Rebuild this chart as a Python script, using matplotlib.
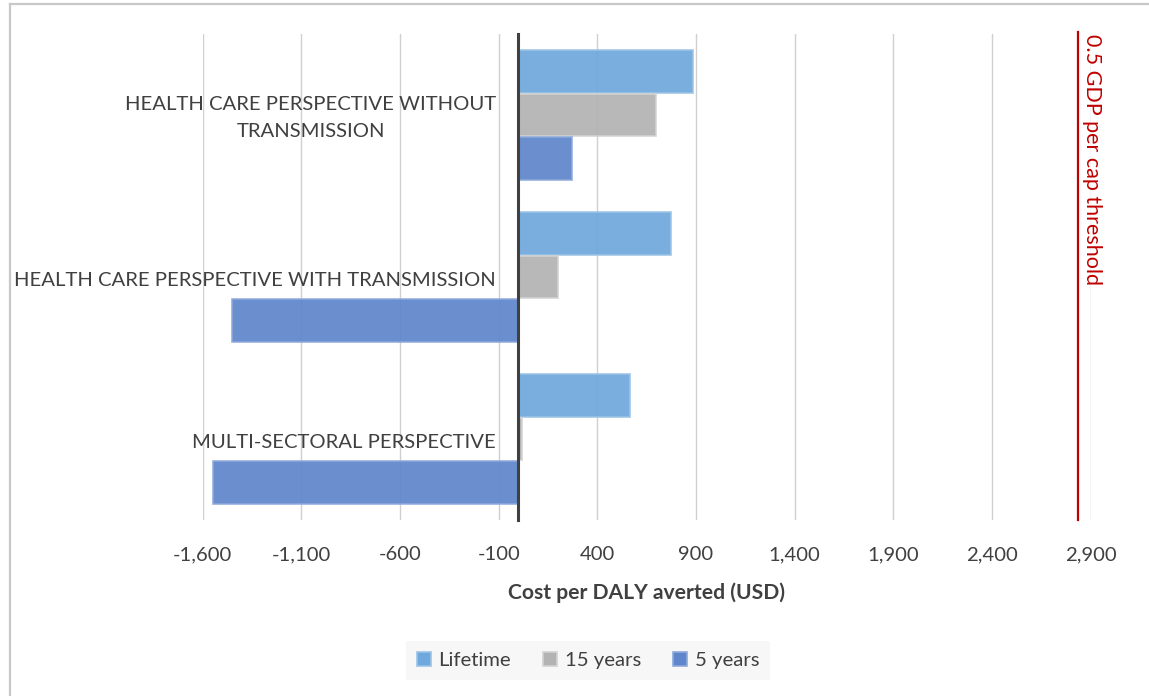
import matplotlib
matplotlib.use("Agg")
import numpy as np
import matplotlib.pyplot as plt
from matplotlib.lines import Line2D
from matplotlib.patches import Patch
from matplotlib.transforms import offset_copy

# cost-effectiveness results per perspective (USD per DALY averted)
categories = [
    "MULTI-SECTORAL PERSPECTIVE",
    "HEALTH CARE PERSPECTIVE WITH TRANSMISSION",
    "HEALTH CARE PERSPECTIVE WITHOUT\nTRANSMISSION",
]
lifetime = [563, 773, 886]
years_15 = [16, 200, 697]
years_5 = [-1547, -1453, 273]
series_names = ["Lifetime", "15 years", "5 years"]
threshold = 2835
threshold_label = "0.5 GDP per cap threshold"
xticks = list(range(-1600, 3400, 500))

TEXT = "#404040"
face = ["#6fa8dc", "#b3b3b3", "#5f86cb"]
edge = ["#9dc3e6", "#d2d2d2", "#8eaadc"]

plt.rcParams["font.family"] = ["Lato", "DejaVu Sans"]

fig = plt.figure(figsize=(11.49, 6.96), dpi=100)
ax = fig.add_axes([202.7 / 1149, 1 - 520 / 696, 888 / 1149, 486 / 696])

y = np.arange(len(categories))
h = 0.27
for vals, off, fc, ec in zip([lifetime, years_15, years_5], [h, 0, -h], face, edge):
    ax.barh(y + off, vals, height=h - 0.005, color=fc, edgecolor=ec,
            linewidth=1.2, alpha=0.93, zorder=2)

ax.set_xlim(-1600, 2900)
ax.set_ylim(-0.5, 2.5)
ax.set_xticks(xticks)
ax.set_xticklabels([f"{v:,}" for v in xticks])
ax.xaxis.grid(True, color="#d0d0d0", linewidth=1.0, zorder=0)
ax.set_axisbelow(True)
ax.tick_params(axis="x", length=0, pad=19, labelsize=14.6, colors=TEXT)

# category labels sit just left of the vertical axis at zero
ax.set_yticks([])
label_tr = offset_copy(ax.transData, fig=fig, x=-16, y=-2.2, units="points")
for yi, name in zip(y, categories):
    ax.text(0, yi, name, transform=label_tr, ha="right", va="center",
            multialignment="center", linespacing=1.75, fontsize=14.6,
            color=TEXT, zorder=1)

for s in ["top", "right", "bottom"]:
    ax.spines[s].set_visible(False)
ax.spines["left"].set_position(("data", 0))
ax.spines["left"].set_color(TEXT)
ax.spines["left"].set_linewidth(2.2)
ax.spines["left"].set_zorder(3)

ax.set_xlabel("Cost per DALY averted (USD)", fontsize=15.2, fontweight="bold",
              color=TEXT, labelpad=14)

# threshold marker
ax.plot([threshold, threshold], [-0.5, 2.51], color="#c00000", linewidth=1.6,
        clip_on=False, zorder=3)
ax.text(2908, 1.0, threshold_label, transform=ax.get_xaxis_transform(),
        rotation=270, ha="center", va="top", color="#c00000", fontsize=15.5)

handles = [Patch(facecolor=fc, edgecolor=ec, linewidth=1.2)
           for fc, ec in zip(face, edge)]
leg = fig.legend(handles, series_names, loc="center",
                 bbox_to_anchor=(588 / 1149, 1 - 660.5 / 696), ncol=3,
                 fontsize=14.6, frameon=True, handlelength=0.7,
                 handleheight=0.7, handletextpad=0.35, columnspacing=1.6,
                 borderpad=0.55)
leg.get_frame().set_facecolor("#f5f5f5")
leg.get_frame().set_edgecolor("none")
leg.get_frame().set_boxstyle("square", pad=0)
for t in leg.get_texts():
    t.set_color(TEXT)

# outer chart border (top and left edges)
fig.add_artist(Line2D([10 / 1149, 10 / 1149], [0, 1 - 4 / 696],
                      transform=fig.transFigure, color="#c8c8c8", linewidth=1.6))
fig.add_artist(Line2D([10 / 1149, 1], [1 - 4 / 696, 1 - 4 / 696],
                      transform=fig.transFigure, color="#c8c8c8", linewidth=1.6))

fig.savefig("out.png", dpi=100)
